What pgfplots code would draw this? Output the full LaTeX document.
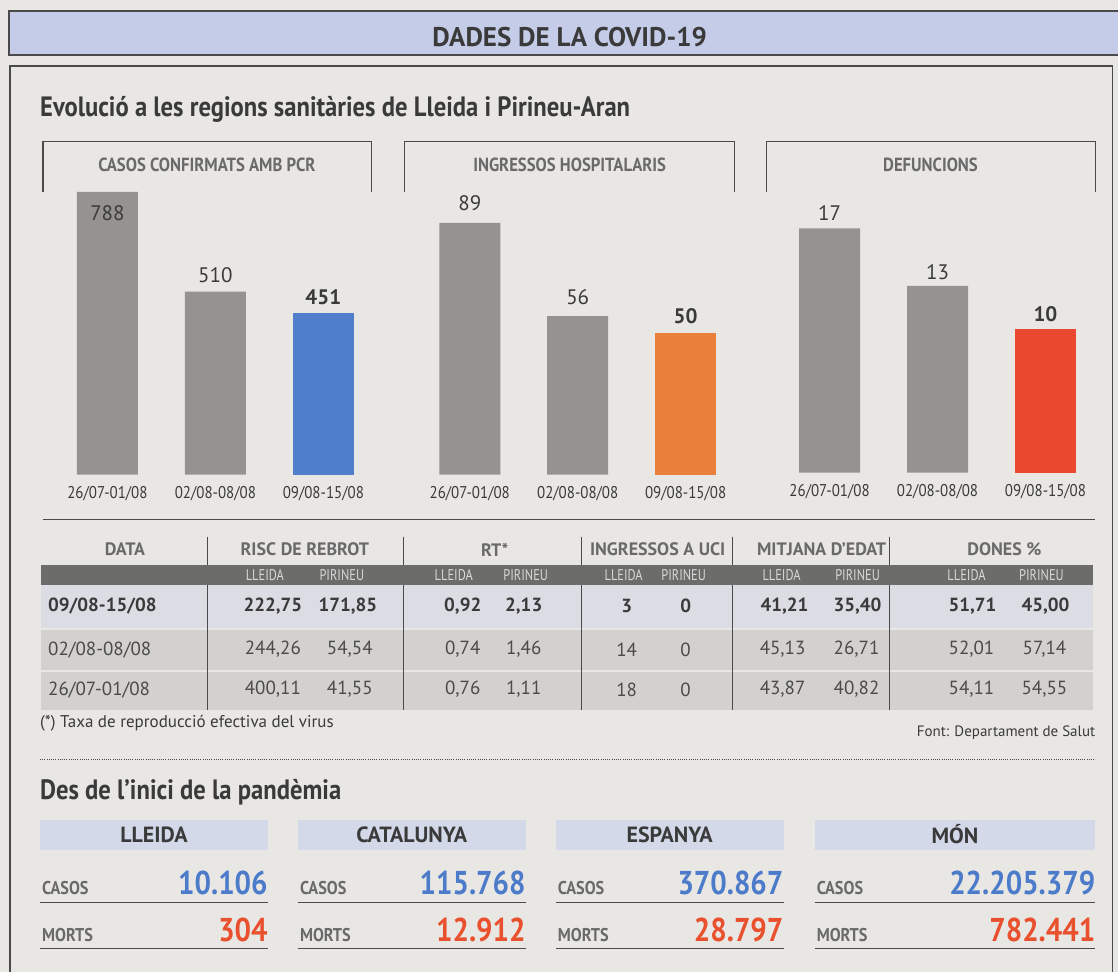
\documentclass[border=0pt]{standalone}
\usepackage{pgfplots}
\pgfplotsset{compat=1.18}
\usepackage{pgfplotstable}
\usepackage{fontspec}
\setmainfont{PT Sans}
\newfontfamily\cond[FakeStretch=0.88]{PT Sans}
\newfontfamily\condn[FakeStretch=0.8]{PT Sans}

\definecolor{paper}{HTML}{E9E7E4}
\definecolor{bandblue}{HTML}{C4CCE7}
\definecolor{linedark}{HTML}{4A4A4A}
\definecolor{txtdark}{HTML}{3A3A3A}
\definecolor{txtmid}{HTML}{4A4A4A}
\definecolor{hdrgray}{HTML}{6A6A6A}
\definecolor{barg}{HTML}{959390}
\definecolor{barblue}{HTML}{4F7FCA}
\definecolor{barorange}{HTML}{EA7E3B}
\definecolor{barred}{HTML}{EA4930}
\definecolor{tband}{HTML}{6C6C6A}
\definecolor{rowone}{HTML}{DCDDE4}
\definecolor{rowtwo}{HTML}{D3D1CE}
\definecolor{grpband}{HTML}{D3D9E9}
\definecolor{numblue}{HTML}{4C7BC9}
\definecolor{numred}{HTML}{E8502E}

\newcommand\fs[1]{\fontsize{#1bp}{#1bp}\selectfont}

\pgfplotstableread{
x y off
0 788 -21
1 510 17
}\casosA
\pgfplotstableread{
x y off
2 451 16
}\casosB
\pgfplotstableread{
x y off
0 89 20
1 56 19
}\ingA
\pgfplotstableread{
x y off
2 50 17
}\ingB
\pgfplotstableread{
x y off
0 17 15
1 13 14
}\defA
\pgfplotstableread{
x y off
2 10 15
}\defB

\pgfplotsset{
  panel/.style={
    scale only axis, anchor=south west,
    width=324bp, height=300bp,
    xmin=-0.5, xmax=2.5, ymin=0,
    axis line style={draw=none},
    major tick length=0pt,
    ytick=\empty,
    xtick={0,1,2},
    xticklabels={26/07-01/08,02/08-08/08,09/08-15/08},
    xticklabel style={font=\cond\fs{17}, text=txtdark, anchor=center, yshift=-18.5bp},
    clip=false,
    /pgf/number format/assume math mode=true,
  },
  barsty/.style={
    ybar, bar shift=0pt, bar width=0.565, draw=none, fill=#1,
    nodes near coords,
    visualization depends on={\thisrow{off} \as \myoff},
    nodes near coords style={anchor=center, yshift=\myoff bp, font=\fs{21}, text=txtdark},
  },
}

\begin{document}
\begin{tikzpicture}[x=1bp,y=1bp]
\fill[paper] (0,0) rectangle (1119,973);

% top band
\fill[bandblue] (9,918) rectangle (1119,962);
\draw[linedark, line width=1.2bp] (1119,962) -- (9,962) -- (9,918) -- (1119,918);
\node[font=\bfseries\fs{27}, text=txtdark] at (570,936) {DADES DE LA COVID-19};

% main box
\draw[linedark, line width=1.2bp] (10,0) -- (10,907) -- (1113,907) -- (1113,0);

% title
\node[anchor=base west, inner sep=0pt, font=\cond\bfseries\fs{28}, text=txtdark] at (40,856) {Evolució a les regions sanitàries de Lleida i Pirineu-Aran};

% panel boxes
\draw[linedark, line width=1.1bp] (43,781) -- (43,831) -- (372,831) -- (372,781);
\draw[linedark, line width=1.1bp] (405,781) -- (405,831) -- (735,831) -- (735,781);
\draw[linedark, line width=1.1bp] (767,781) -- (767,831) -- (1096,831) -- (1096,781);
\node[font=\cond\bfseries\fs{19}, text=hdrgray] at (207,808) {CASOS CONFIRMATS AMB PCR};
\node[font=\cond\bfseries\fs{19}, text=hdrgray] at (570,808) {INGRESSOS HOSPITALARIS};
\node[font=\cond\bfseries\fs{19}, text=hdrgray] at (931,808) {DEFUNCIONS};

% charts
\begin{axis}[panel, at={(53.5bp,498bp)}, ymax=835.3]
\addplot[barsty=barg] table[x=x,y=y]{\casosA};
\addplot[barsty=barblue, nodes near coords style={font=\bfseries\fs{21}}] table[x=x,y=y]{\casosB};
\end{axis}
\begin{axis}[panel, at={(416bp,498bp)}, ymax=105.95]
\addplot[barsty=barg] table[x=x,y=y]{\ingA};
\addplot[barsty=barorange, nodes near coords style={font=\bfseries\fs{21}}] table[x=x,y=y]{\ingB};
\end{axis}
\begin{axis}[panel, at={(776bp,500bp)}, ymax=20.86]
\addplot[barsty=barg] table[x=x,y=y]{\defA};
\addplot[barsty=barred, nodes near coords style={font=\bfseries\fs{21}}] table[x=x,y=y]{\defB};
\end{axis}

\draw[linedark, line width=1.2bp] (43,453) -- (1096,453);

% table
\fill[rowone] (41,345) rectangle (1094,388);
\fill[rowtwo] (41,303) rectangle (1094,343);
\fill[rowtwo] (41,263) rectangle (1094,301);
\foreach \xx in {208,404,582,733,890} \draw[linedark, line width=1bp] (\xx,436) -- (\xx,263);
\fill[tband] (41,388) rectangle (1094,408);
\foreach \xx/\tt in {125/DATA,305/RISC DE REBROT,495/RT*,658/INGRESSOS A UCI,822/MITJANA D’EDAT,1005/DONES \%}
  \node[font=\bfseries\fs{18}, text=hdrgray] at (\xx,423) {\tt};
\foreach \xx/\tt in {265/LLEIDA,342/PIRINEU,454/LLEIDA,526/PIRINEU,624/LLEIDA,684/PIRINEU,782/LLEIDA,858/PIRINEU,967/LLEIDA,1042/PIRINEU}
  \node[font=\condn\fs{15.5}, text=white!85!black] at (\xx,398) {\tt};
% rows
\node[anchor=west, inner sep=0pt, font=\bfseries\fs{19}, text=txtdark] at (48,367) {09/08-15/08};
\node[anchor=west, inner sep=0pt, font=\fs{19}, text=txtmid] at (48,323) {02/08-08/08};
\node[anchor=west, inner sep=0pt, font=\fs{19}, text=txtmid] at (48,283) {26/07-01/08};
\foreach \xx/\tt in {273/{222,75},348/{171,85},463/{0,92},524/{2,13},627/3,686/0,785/{41,21},858/{35,40},973/{51,71},1046/{45,00}}
  \node[font=\bfseries\fs{19}, text=txtdark] at (\xx,367) {\tt};
\foreach \xx/\tt in {273/{244,26},350/{54,54},463/{0,74},524/{1,46},627/14,686/0,783/{45,13},857/{26,71},972/{52,01},1045/{57,14}}
  \node[font=\fs{19}, text=txtmid] at (\xx,323) {\tt};
\foreach \xx/\tt in {273/{400,11},350/{41,55},463/{0,76},524/{1,11},627/18,686/0,783/{43,87},857/{40,82},972/{54,11},1045/{54,55}}
  \node[font=\fs{19}, text=txtmid] at (\xx,283) {\tt};

\node[anchor=west, inner sep=0pt, font=\fs{17}, text=txtdark] at (40,249) {(*) Taxa de reproducció efectiva del virus};
\node[anchor=east, inner sep=0pt, font=\fs{15}, text=txtdark] at (1096,240) {Font: Departament de Salut};

\draw[linedark, line width=1bp, dash pattern=on 1bp off 1.2bp] (40,213) -- (1096,213);

\node[anchor=base west, inner sep=0pt, font=\cond\bfseries\fs{28}, text=txtdark] at (40,173) {Des de l’inici de la pandèmia};

% groups
\foreach \xa/\xb/\nm/\cs/\mt in {40/268/LLEIDA/10.106/304, 298/526/CATALUNYA/115.768/12.912, 556/784/ESPANYA/370.867/28.797, 815/1096/MÓN/22.205.379/782.441}{
  \fill[grpband] (\xa,123) rectangle (\xb,153);
  \node[font=\bfseries\fs{22}, text=txtdark] at ({(\xa+\xb)/2},138) {\nm};
  \node[anchor=base west, inner sep=0pt, font=\cond\bfseries\fs{18.5}, text=hdrgray] at (\xa+2,78) {CASOS};
  \node[anchor=base east, inner sep=0pt, font=\cond\bfseries\fs{33}, text=numblue] at (\xb,78) {\cs};
  \draw[linedark, line width=1.5bp] (\xa,70) -- (\xb,70);
  \node[anchor=base west, inner sep=0pt, font=\cond\bfseries\fs{18.5}, text=hdrgray] at (\xa+2,31) {MORTS};
  \node[anchor=base east, inner sep=0pt, font=\cond\bfseries\fs{33}, text=numred] at (\xb,31) {\mt};
  \draw[linedark, line width=1.5bp] (\xa,24) -- (\xb,24);
}
\end{tikzpicture}
\end{document}
